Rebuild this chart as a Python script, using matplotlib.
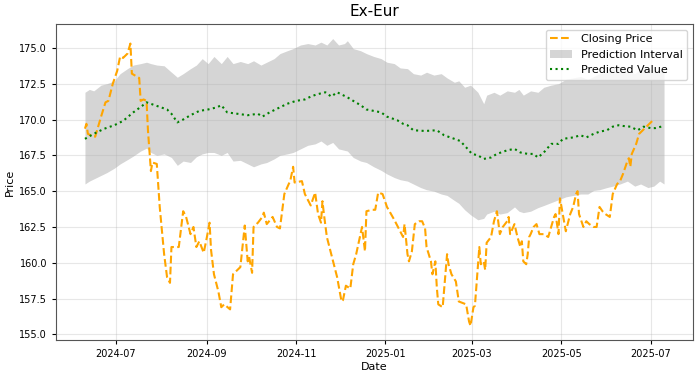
import matplotlib
matplotlib.use('Agg')
import matplotlib.pyplot as plt
import matplotlib.dates as mdates
import pandas as pd

# Closing price
close_dates = [
    '2024-06-10', '2024-06-11', '2024-06-12', '2024-06-14', '2024-06-17', '2024-06-21',
    '2024-06-24', '2024-06-26', '2024-06-29', '2024-07-02', '2024-07-04', '2024-07-06',
    '2024-07-09', '2024-07-11', '2024-07-12', '2024-07-17', '2024-07-18', '2024-07-20',
    '2024-07-22', '2024-07-23', '2024-07-25', '2024-07-26', '2024-07-29', '2024-07-31',
    '2024-08-03', '2024-08-05', '2024-08-07', '2024-08-08', '2024-08-13', '2024-08-16',
    '2024-08-18', '2024-08-21', '2024-08-23', '2024-08-25', '2024-08-27', '2024-08-30',
    '2024-09-01', '2024-09-03', '2024-09-04', '2024-09-06', '2024-09-09', '2024-09-11',
    '2024-09-13', '2024-09-17', '2024-09-19', '2024-09-24', '2024-09-27', '2024-09-29',
    '2024-09-30', '2024-10-02', '2024-10-03', '2024-10-06', '2024-10-09', '2024-10-10',
    '2024-10-12', '2024-10-16', '2024-10-19', '2024-10-21', '2024-10-24', '2024-10-27',
    '2024-10-28', '2024-10-30', '2024-10-31', '2024-11-05', '2024-11-07', '2024-11-11',
    '2024-11-14', '2024-11-16', '2024-11-18', '2024-11-19', '2024-11-20', '2024-11-22',
    '2024-11-25', '2024-11-29', '2024-12-02', '2024-12-03', '2024-12-05', '2024-12-08',
    '2024-12-10', '2024-12-12', '2024-12-16', '2024-12-18', '2024-12-19', '2024-12-23',
    '2024-12-25', '2024-12-27', '2024-12-30', '2025-01-02', '2025-01-07', '2025-01-11',
    '2025-01-13', '2025-01-14', '2025-01-16', '2025-01-17', '2025-01-19', '2025-01-21',
    '2025-01-24', '2025-01-26', '2025-01-28', '2025-01-29', '2025-02-01', '2025-02-02',
    '2025-02-04', '2025-02-05', '2025-02-06', '2025-02-09', '2025-02-12', '2025-02-13',
    '2025-02-15', '2025-02-18', '2025-02-20', '2025-02-25', '2025-02-27', '2025-02-28',
    '2025-03-02', '2025-03-03', '2025-03-05', '2025-03-06', '2025-03-07', '2025-03-09',
    '2025-03-10', '2025-03-11', '2025-03-14', '2025-03-16', '2025-03-18', '2025-03-20',
    '2025-03-22', '2025-03-25', '2025-03-26', '2025-03-27', '2025-03-30', '2025-04-01',
    '2025-04-03', '2025-04-04', '2025-04-05', '2025-04-07', '2025-04-08', '2025-04-09',
    '2025-04-10', '2025-04-12', '2025-04-14', '2025-04-16', '2025-04-19', '2025-04-22',
    '2025-04-26', '2025-04-27', '2025-04-29', '2025-04-30', '2025-05-04', '2025-05-07',
    '2025-05-09', '2025-05-11', '2025-05-12', '2025-05-13', '2025-05-16', '2025-05-18',
    '2025-05-20', '2025-05-23', '2025-05-25', '2025-05-27', '2025-05-29', '2025-05-31',
    '2025-06-03', '2025-06-05', '2025-06-08', '2025-06-10', '2025-06-12', '2025-06-15',
    '2025-06-16', '2025-06-17', '2025-06-18', '2025-06-21', '2025-06-23', '2025-06-25',
    '2025-06-27', '2025-06-30', '2025-07-02', '2025-07-03',
]
close_values = [
    169.36, 169.7, 169.0, 168.9, 168.8, 170.2,
    171.2, 171.3, 172.5, 173.4, 174.4, 174.3,
    174.6, 175.3, 173.2, 172.9, 171.3, 171.4,
    171.3, 169.2, 166.4, 167.0, 166.9, 163.9,
    160.6, 159.0, 158.6, 161.1, 161.1, 163.6,
    163.2, 162.0, 162.5, 161.1, 161.5, 160.7,
    161.7, 162.8, 160.9, 159.2, 158.0, 156.9,
    157.1, 156.75, 159.2, 159.7, 162.6, 160.1,
    160.4, 159.3, 162.5, 162.8, 163.2, 163.5,
    162.7, 163.2, 162.5, 162.4, 164.8, 165.5,
    165.7, 166.7, 165.6, 165.7, 164.8, 164.0,
    164.9, 163.4, 162.8, 164.3, 163.4, 161.8,
    160.6, 159.0, 157.3, 157.4, 158.4, 158.2,
    159.9, 160.6, 162.5, 160.8, 163.6, 163.7,
    163.7, 164.9, 164.8, 163.9, 163.0, 162.2,
    161.8, 162.7, 160.6, 160.1, 160.8, 162.7,
    162.9, 162.9, 162.4, 161.1, 160.1, 159.2,
    160.1, 158.3, 157.1, 156.9, 160.6, 159.9,
    159.2, 158.7, 157.3, 157.1, 155.9, 155.6,
    156.9, 157.0, 159.7, 161.1, 159.9, 160.1,
    159.5, 161.4, 161.8, 162.9, 163.6, 162.0,
    162.5, 162.9, 163.2, 162.0, 162.7, 161.8,
    161.1, 161.5, 160.1, 159.9, 160.6, 161.8,
    162.0, 162.5, 162.7, 162.0, 162.0, 161.8,
    163.2, 163.4, 162.0, 164.5, 162.2, 163.4,
    163.9, 164.8, 165.0, 163.4, 162.5, 162.9,
    162.7, 162.5, 162.5, 163.9, 163.6, 163.4,
    163.2, 164.8, 165.5, 165.7, 166.2, 167.1,
    167.3, 166.7, 167.6, 168.3, 169.0, 169.2,
    169.4, 169.7, 169.9, 170.0,
]

# Predicted value
pred_dates = [
    '2024-06-10', '2024-06-16', '2024-06-23', '2024-06-30', '2024-07-06', '2024-07-13',
    '2024-07-19', '2024-07-22', '2024-07-29', '2024-08-05', '2024-08-08', '2024-08-12',
    '2024-08-16', '2024-08-21', '2024-08-27', '2024-09-02', '2024-09-08', '2024-09-11',
    '2024-09-15', '2024-09-22', '2024-09-29', '2024-10-06', '2024-10-09', '2024-10-14',
    '2024-10-21', '2024-10-26', '2024-11-01', '2024-11-07', '2024-11-11', '2024-11-15',
    '2024-11-21', '2024-11-25', '2024-11-29', '2024-12-06', '2024-12-10', '2024-12-15',
    '2024-12-19', '2024-12-24', '2024-12-29', '2025-01-02', '2025-01-09', '2025-01-13',
    '2025-01-16', '2025-01-20', '2025-01-28', '2025-02-05', '2025-02-10', '2025-02-17',
    '2025-02-21', '2025-02-26', '2025-03-01', '2025-03-05', '2025-03-09', '2025-03-14',
    '2025-03-18', '2025-03-25', '2025-03-30', '2025-04-03', '2025-04-08', '2025-04-12',
    '2025-04-15', '2025-04-19', '2025-04-24', '2025-04-29', '2025-05-02', '2025-05-09',
    '2025-05-14', '2025-05-18', '2025-05-23', '2025-05-27', '2025-06-01', '2025-06-05',
    '2025-06-09', '2025-06-12', '2025-06-17', '2025-06-22', '2025-06-26', '2025-07-01',
    '2025-07-04', '2025-07-10',
]
pred_values = [
    168.65, 169.0, 169.35, 169.6, 169.9, 170.5,
    170.95, 171.2, 170.95, 170.7, 170.4, 169.8,
    170.0, 170.3, 170.6, 170.7, 170.85, 171.0,
    170.5, 170.4, 170.3, 170.4, 170.2, 170.5,
    170.85, 171.1, 171.3, 171.4, 171.6, 171.75,
    171.9, 171.6, 171.9, 171.55, 171.3, 171.0,
    170.7, 170.6, 170.5, 170.2, 169.95, 169.7,
    169.6, 169.25, 169.2, 169.25, 168.9, 168.65,
    168.5, 167.95, 167.6, 167.5, 167.25, 167.35,
    167.6, 167.85, 167.95, 167.7, 167.6, 167.6,
    167.35, 167.7, 168.3, 168.3, 168.65, 168.75,
    168.9, 168.75, 169.0, 169.15, 169.25, 169.5,
    169.6, 169.55, 169.5, 169.25, 169.5, 169.4,
    169.4, 169.55,
]

# Prediction interval
band_dates = [
    '2024-06-10', '2024-06-13', '2024-06-16', '2024-06-21', '2024-06-25', '2024-06-30',
    '2024-07-04', '2024-07-09', '2024-07-13', '2024-07-18', '2024-07-22', '2024-07-25',
    '2024-07-29', '2024-08-03', '2024-08-08', '2024-08-12', '2024-08-16', '2024-08-21',
    '2024-08-25', '2024-08-29', '2024-09-02', '2024-09-06', '2024-09-11', '2024-09-15',
    '2024-09-19', '2024-09-24', '2024-09-29', '2024-10-03', '2024-10-08', '2024-10-12',
    '2024-10-17', '2024-10-21', '2024-10-26', '2024-10-30', '2024-11-04', '2024-11-09',
    '2024-11-14', '2024-11-18', '2024-11-22', '2024-11-26', '2024-11-30', '2024-12-04',
    '2024-12-06', '2024-12-10', '2024-12-15', '2024-12-19', '2024-12-24', '2024-12-29',
    '2025-01-02', '2025-01-07', '2025-01-11', '2025-01-16', '2025-01-20', '2025-01-25',
    '2025-01-29', '2025-02-03', '2025-02-08', '2025-02-12', '2025-02-17', '2025-02-20',
    '2025-02-24', '2025-02-28', '2025-03-05', '2025-03-09', '2025-03-11', '2025-03-16',
    '2025-03-20', '2025-03-25', '2025-03-30', '2025-04-02', '2025-04-05', '2025-04-10',
    '2025-04-15', '2025-04-19', '2025-04-24', '2025-04-29', '2025-05-04', '2025-05-09',
    '2025-05-14', '2025-05-19', '2025-05-23', '2025-05-27', '2025-06-01', '2025-06-05',
    '2025-06-10', '2025-06-15', '2025-06-20', '2025-06-24', '2025-06-29', '2025-07-03',
    '2025-07-07', '2025-07-10',
]
band_upper = [
    171.9, 172.1, 172.0, 172.4, 172.5, 172.7,
    173.2, 173.55, 173.8, 173.9, 174.0, 173.9,
    173.8, 173.75, 173.3, 172.95, 173.2, 173.55,
    173.8, 174.25, 173.9, 174.4, 173.9, 174.4,
    173.9, 174.05, 173.9, 174.1, 173.8, 174.0,
    174.25, 174.6, 174.8, 174.95, 175.2, 175.3,
    175.2, 175.4, 175.2, 175.65, 175.2, 175.3,
    175.5, 174.95, 174.8, 174.6, 174.4, 174.25,
    174.0, 173.9, 173.6, 173.55, 173.2, 173.1,
    173.3, 173.1, 173.2, 172.9, 172.6, 172.7,
    172.25, 172.4, 171.9, 171.1, 171.7, 171.9,
    171.7, 172.0, 171.9, 172.1, 171.7, 172.0,
    171.9, 172.25, 172.4, 172.5, 172.8, 172.9,
    173.0, 172.8, 173.0, 173.2, 173.3, 173.6,
    173.7, 173.4, 173.2, 173.5, 173.5, 173.45,
    173.4, 173.5,
]
band_lower = [
    165.5, 165.7, 165.85, 166.1, 166.3, 166.6,
    166.9, 167.2, 167.45, 167.8, 168.0, 167.7,
    167.5, 167.6, 167.35, 166.8, 167.1, 167.0,
    167.4, 167.6, 167.7, 167.7, 167.5, 167.7,
    167.1, 167.15, 166.9, 166.7, 166.9, 167.0,
    167.25, 167.5, 167.6, 167.7, 167.95, 168.2,
    168.3, 168.5, 168.2, 168.4, 167.95, 167.85,
    167.8, 167.35, 167.1, 167.0, 166.7, 166.45,
    166.2, 165.95, 165.8, 165.7, 165.5, 165.25,
    165.1, 165.0, 164.8, 164.7, 164.35, 164.15,
    163.7, 163.35, 163.0, 163.1, 163.4, 163.6,
    163.4, 163.5, 163.9, 163.6, 163.5, 163.6,
    163.85, 164.0, 164.2, 164.4, 164.6, 164.7,
    164.8, 164.8, 165.05, 165.1, 165.25, 165.35,
    165.5, 165.7, 165.35, 165.5, 165.25, 165.35,
    165.7, 165.5,
]

fig, ax = plt.subplots(figsize=(7, 3.78), dpi=100)
fig.subplots_adjust(left=0.08, right=0.99, bottom=0.1, top=0.936)

ax.plot(pd.to_datetime(close_dates), close_values, color='orange', linestyle='--',
        linewidth=1.5, label='Closing Price')
ax.fill_between(pd.to_datetime(band_dates), band_lower, band_upper, color='gray',
                alpha=0.33, linewidth=0, label='Prediction Interval')
ax.plot(pd.to_datetime(pred_dates), pred_values, color='green', linestyle=':',
        linewidth=1.5, label='Predicted Value')

ax.set_title('Ex-Eur', fontsize=11)
ax.set_xlabel('Date', fontsize=8, labelpad=2)
ax.set_ylabel('Price', fontsize=8, labelpad=3)
ax.xaxis.set_major_locator(mdates.MonthLocator(bymonth=[1, 3, 5, 7, 9, 11]))
ax.xaxis.set_major_formatter(mdates.DateFormatter('%Y-%m'))
ax.tick_params(labelsize=7, length=3)
ax.grid(True, alpha=0.3)
for s in ax.spines.values():
    s.set_color('#555555')
ax.legend(loc='upper right', fontsize=8)

fig.savefig('out.png', dpi=100)
